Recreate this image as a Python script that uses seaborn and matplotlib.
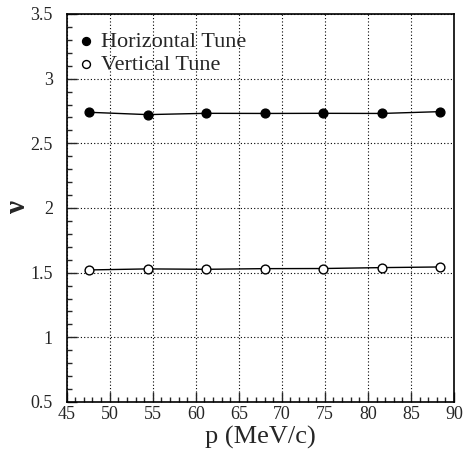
import matplotlib
matplotlib.use("Agg")
import matplotlib.pyplot as plt
import seaborn as sns
import pandas as pd
from matplotlib.ticker import MultipleLocator

# Data
momentum = [47.6, 54.4, 61.2, 68.0, 74.8, 81.6, 88.4]
horizontal_tune = [2.740, 2.722, 2.732, 2.731, 2.732, 2.731, 2.745]
vertical_tune = [1.521, 1.529, 1.526, 1.531, 1.532, 1.539, 1.544]
series_labels = ["Horizontal Tune", "Vertical Tune"]

x_ticks = [45, 50, 55, 60, 65, 70, 75, 80, 85, 90]
y_ticks = [0.5, 1, 1.5, 2, 2.5, 3, 3.5]
y_tick_labels = ["0.5", "1", "1.5", "2", "2.5", "3", "3.5"]

sns.set_style("ticks")
plt.rcParams["font.family"] = ["Liberation Serif", "DejaVu Serif"]

df_h = pd.DataFrame({"p": momentum, "nu": horizontal_tune})
df_v = pd.DataFrame({"p": momentum, "nu": vertical_tune})

fig = plt.figure(figsize=(4.64, 4.5), dpi=100)
ax = fig.add_axes([0.1437, 0.1067, 0.8347, 0.8622])

ax.grid(True, which="major", color="black", linestyle=(0, (1, 2)), linewidth=0.8)
ax.set_axisbelow(True)

sns.lineplot(data=df_h, x="p", y="nu", ax=ax, color="black", linewidth=1.0, legend=False)
sns.lineplot(data=df_v, x="p", y="nu", ax=ax, color="black", linewidth=1.0, legend=False)
sns.scatterplot(data=df_h, x="p", y="nu", ax=ax, color="black", s=40, marker="o",
                edgecolor="black", linewidth=1.0, label=series_labels[0], zorder=3)
sns.scatterplot(data=df_v, x="p", y="nu", ax=ax, facecolor="white", s=40, marker="o",
                edgecolor="black", linewidth=1.0, label=series_labels[1], zorder=3)

ax.set_xlim(45, 90)
ax.set_ylim(0.5, 3.5)
ax.set_xticks(x_ticks)
ax.set_yticks(y_ticks)
ax.set_yticklabels(y_tick_labels)
ax.xaxis.set_minor_locator(MultipleLocator(1))
ax.yaxis.set_minor_locator(MultipleLocator(0.1))
ax.tick_params(axis="both", which="major", direction="in", length=7, width=1.0,
               labelsize=13, top=False, right=False)
ax.tick_params(axis="both", which="minor", direction="in", length=3.5, width=1.0,
               top=False, right=False)
ax.tick_params(axis="y", which="major", pad=10)
ax.tick_params(axis="x", which="major", pad=3)

for sp in ax.spines.values():
    sp.set_visible(True)
    sp.set_color("black")
    sp.set_linewidth(1.2)

ax.set_xlabel("p (MeV/c)", fontsize=19, labelpad=2)
ax.set_ylabel("ν", fontsize=21, fontweight="bold")
ax.yaxis.set_label_coords(-0.092, 0.5)

leg = ax.legend(loc="upper left", bbox_to_anchor=(0.0, 0.99), frameon=False,
                fontsize=16, handlelength=0.5, handletextpad=0.45, labelspacing=0.1,
                borderaxespad=0.3, borderpad=0.3, markerscale=0.9)

fig.savefig("out.png", dpi=100)
